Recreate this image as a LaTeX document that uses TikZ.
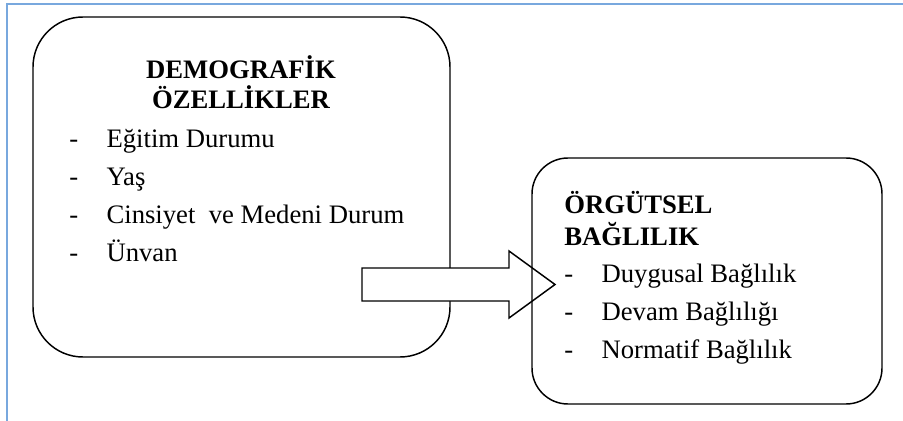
\documentclass[tikz,border=0pt]{standalone}
\usepackage{fontspec}
\setmainfont{Liberation Serif}
\usetikzlibrary{positioning}
\definecolor{cerceve}{RGB}{120,168,222}
\newcommand{\cizgi}{\makebox[28pt][l]{-}}

\begin{document}
\begin{tikzpicture}[x=0.75pt, y=-0.75pt,
        kutu/.style={rectangle, draw=black, line width=1.1pt},
        baslik/.style={font=\fontsize{20}{24}\selectfont\bfseries, inner sep=0pt, anchor=base},
        madde/.style={font=\fontsize{20}{24}\selectfont, inner sep=0pt, anchor=base west},
        % Blok ok
        ok/.style={draw=black, fill=white, line width=1.1pt, line join=miter}
    ]
        \useasboundingbox (0,0) rectangle (903,421);
        % Sayfa çerçevesi
        \draw[cerceve, line width=1.5pt] (7,421) -- (7,4) -- (903,4);

        % Sol kutu (Demografik özellikler)
        \node (demo) [kutu, rounded corners=37.5pt, minimum width=312.75pt, minimum height=255pt] at (241.5,187) {};
        \node (b1) [baslik] at (241,78) {DEMOGRAFİK};
        \node (b2) [baslik, below=22.5pt of b1.base, anchor=base] {ÖZELLİKLER};
        \node (d1) [madde] at (69,147) {\cizgi Eğitim Durumu};
        \node (d2) [madde, below=28.7pt of d1.base west, anchor=base west] {\cizgi Yaş};
        \node (d3) [madde, below=28.7pt of d2.base west, anchor=base west] {\cizgi Cinsiyet\ \ ve Medeni Durum};
        \node (d4) [madde, below=28.7pt of d3.base west, anchor=base west] {\cizgi Ünvan};

        % Ok
        \draw[ok] (362,268) -- (509,268) -- (509,251) -- (555,284.5) -- (509,318) -- (509,301) -- (362,301) -- cycle;

        % Sağ kutu (Örgütsel bağlılık)
        \node (org) [kutu, rounded corners=27pt, minimum width=262.5pt, minimum height=184.5pt] at (707,281) {};
        \node (o1) [madde, font=\fontsize{20}{24}\selectfont\bfseries] at (564,213) {ÖRGÜTSEL};
        \node (o2) [madde, font=\fontsize{20}{24}\selectfont\bfseries, below=24pt of o1.base west, anchor=base west] {BAĞLILIK};
        \node (r1) [madde] at (564,282) {\cizgi Duygusal Bağlılık};
        \node (r2) [madde, below=28.7pt of r1.base west, anchor=base west] {\cizgi Devam Bağlılığı};
        \node (r3) [madde, below=28.7pt of r2.base west, anchor=base west] {\cizgi Normatif Bağlılık};

    \end{tikzpicture}
\end{document}
